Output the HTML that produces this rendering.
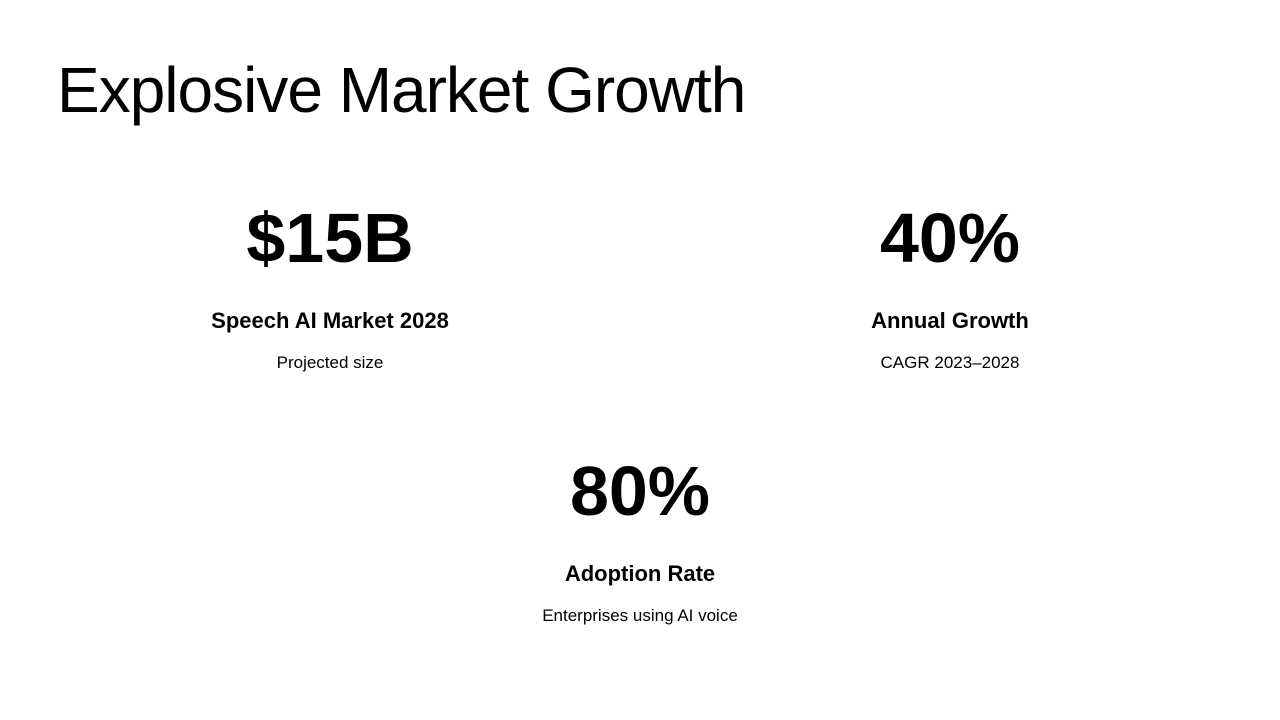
<!DOCTYPE html>
<html><head><style>
html,body{margin:0;padding:0;width:1280px;height:720px;background:#fff;overflow:hidden;font-family:"Liberation Sans",sans-serif;color:#000;}
.t{position:absolute;left:57px;top:52px;font-size:64px;font-weight:300;letter-spacing:-1px;line-height:76px;}
.s{position:absolute;width:500px;text-align:center;}
.n{font-size:70px;font-weight:bold;line-height:80px;letter-spacing:0px;}
.l{font-size:22px;font-weight:bold;margin-top:30px;line-height:26px;letter-spacing:0px;}
.d{font-size:17px;margin-top:19px;line-height:20px;}
</style></head><body>
<div class="t">Explosive Market Growth</div>
<div class="s" style="left:80px;top:198px"><div class="n">$15B</div><div class="l">Speech AI Market 2028</div><div class="d">Projected size</div></div>
<div class="s" style="left:700px;top:198px"><div class="n">40%</div><div class="l">Annual Growth</div><div class="d">CAGR 2023–2028</div></div>
<div class="s" style="left:390px;top:451px"><div class="n">80%</div><div class="l">Adoption Rate</div><div class="d">Enterprises using AI voice</div></div>
</body></html>
